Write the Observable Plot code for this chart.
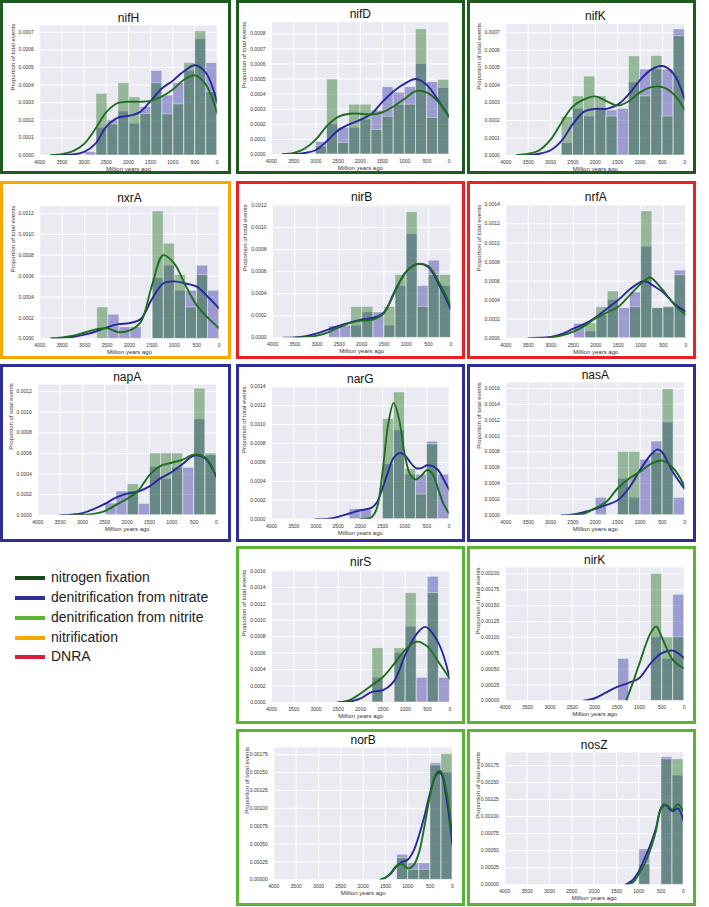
<!DOCTYPE html>
<html><head><meta charset="utf-8">
<script src="https://cdn.jsdelivr.net/npm/d3@7"></script>
<script src="https://cdn.jsdelivr.net/npm/@observablehq/plot@0.6"></script>
<style>
body{margin:0;background:#fff;font-family:"Liberation Sans",Arial,sans-serif;}
#root{position:relative;width:709px;height:907px;overflow:hidden;background:#fff;}
.box{position:absolute;box-sizing:border-box;border:3px solid;pointer-events:none;}
.panel{position:absolute;}
.panel svg{overflow:visible;}
.leg{position:absolute;font-size:14px;color:#222;white-space:nowrap;}
.sw{position:absolute;height:4px;width:30px;}
</style></head><body><div id="root"></div><script>
// ---------- DATA ----------
const genes = ["nifH","nifD","nifK","nxrA","nirB","nrfA","napA","narG","nasA","nirS","nirK","norB","nosZ"];
const pathwayOf = ["fix","fix","fix","nitrif","dnra","dnra","nitrate","nitrate","nitrate","nitrite","nitrite","nitrite","nitrite"];
const pathways = ["fix","nitrate","nitrite","nitrif","dnra"];
const pathwayNames = ["nitrogen fixation","denitrification from nitrate","denitrification from nitrite","nitrification","DNRA"];
const xTickLabels = [4000,3500,3000,2500,2000,1500,1000,500,0];
// oldest histogram bin edge (Ma); bins run from here to 0
const binOldest = [2970,3000,2750,2720,2730,2480,2485,2240,1990,1735,1475,1240,990];
// histogram heights, oldest bin first
const greenHist = [
 [0,0.00035,0.000176,0.00041,0.00033,0.000236,0.00041,0.000233,0.00029,0.000525,0.000705,0.00036],
 [0.000053,0.000497,0.000075,0.00033,0.00033,0.000163,0.00025,0.00033,0.00033,0.00083,0.000243,0.000495],
 [0.00022,0.000337,0.00045,0.000337,0.000222,0,0.000565,0.000337,0.000567,0.000222,0.00068],
 [0.0003,0,0,0,0,0.00122,0.00091,0.00061,0.0003,0.00061,0],
 [0,0,0.00028,0.00028,0,0.00028,0.00057,0.00114,0.00028,0.00057,0.00057],
 [0,0.000157,0.000325,0.00049,0,0.000325,0.00133,0.000315,0.00033,0.00066],
 [0,0,0.0003,0,0.0006,0.0006,0.0006,0,0.00123,0.0006],
 [0,0,0,0.00106,0.00134,0.00053,0.00026,0.00079,0],
 [0,0,0.0008,0.0008,0,0.00079,0.00159,0],
 [0.00066,0,0.00066,0.00133,0,0.00133,0],
 [0,0,0,0.002,0.001,0.001],
 [0.0003,0.00014,0.00014,0.0016,0.00176],
 [0.0003,0,0.00184,0.00184]
];
const purpleHist = [
 [0.00002,0.000157,0.0002,0.00025,0.00018,0.000274,0.00048,0.00034,0.00041,0.00048,0.00066,0.000524],
 [0.000082,0.0002,0.000177,0.000177,0.00023,0.00029,0.000446,0.00041,0.000446,0.0006,0.00048,0.00044],
 [0.00007,0.000266,0.000222,0.000266,0.000257,0.000266,0.000416,0.00049,0.00049,0.00049,0.000719],
 [0,0.00023,0.00011,0.00011,0,0.00058,0.0007,0.00046,0.00046,0.0007,0.00046],
 [0.000105,0.00011,0.00011,0.00023,0.00023,0.00011,0.00047,0.00094,0.00047,0.0007,0.00047],
 [0.00015,0.00007,0.00024,0.0004,0.000315,0.00048,0.00096,0.000315,0.00032,0.00071],
 [0.000114,0.00023,0.00023,0.00011,0.00047,0.00035,0.00046,0.00046,0.00093,0.00058],
 [0.000106,0.000095,0,0.00058,0.00094,0.00047,0.00047,0.00082,0.00047],
 [0.00022,0,0.00046,0.00022,0.0007,0.00093,0.00117,0.00022],
 [0.0003,0,0.0006,0.00092,0.0003,0.00153,0.0003],
 [0.00066,0,0,0.001,0.00066,0.00167],
 [0.00035,0.00023,0.00023,0.00163,0.0015],
 [0.00052,0,0.00187,0.0016]
];
// density curves, [age Ma, density]
const blueKde = [
 [[3750,0],[3500,0.000002],[3250,0.000006],[3000,0.00002],[2750,0.000066],[2500,0.000164],[2250,0.000214],[2000,0.000225],[1750,0.000245],[1500,0.00031],[1250,0.00038],[1000,0.000425],[750,0.000478],[500,0.000512],[250,0.000467],[0,0.0003]],
 [[3750,0],[3500,0.000002],[3250,0.00001],[3000,0.00003],[2750,0.00009],[2500,0.00016],[2250,0.0002],[2000,0.00023],[1750,0.00027],[1500,0.00035],[1250,0.00042],[1000,0.00047],[750,0.0005],[500,0.00046],[250,0.00036],[0,0.00025]],
 [[3750,0],[3500,0.000002],[3250,0.00001],[3000,0.00003],[2750,0.000085],[2500,0.00018],[2250,0.00025],[2000,0.000266],[1750,0.000266],[1500,0.00029],[1250,0.00035],[1000,0.00043],[750,0.00049],[500,0.00051],[250,0.000466],[0,0.00032]],
 [[3750,0],[3500,0.000006],[3250,0.00002],[3000,0.00004],[2750,0.00007],[2500,0.00011],[2250,0.00014],[2000,0.00015],[1750,0.00019],[1500,0.00038],[1250,0.00053],[1000,0.00055],[750,0.00053],[500,0.0005],[250,0.0004],[0,0.00029]],
 [[3750,0],[3500,0.000003],[3250,0.000015],[3000,0.00004],[2750,0.000075],[2500,0.00011],[2250,0.00014],[2000,0.000165],[1750,0.00018],[1500,0.00023],[1250,0.00043],[1000,0.0006],[750,0.00067],[500,0.00064],[250,0.00047],[0,0.00026]],
 [[3500,0],[3250,0.000004],[3000,0.000014],[2750,0.000045],[2500,0.0001],[2250,0.00015],[2000,0.00022],[1750,0.00031],[1500,0.0004],[1250,0.00051],[1000,0.00059],[875,0.000595],[750,0.00056],[500,0.00048],[250,0.00036],[0,0.00028]],
 [[3500,0],[3250,0.000006],[3000,0.00002],[2750,0.00006],[2500,0.00011],[2250,0.00017],[2000,0.00021],[1750,0.00023],[1500,0.00028],[1250,0.00036],[1000,0.00042],[750,0.0005],[500,0.00058],[250,0.00055],[0,0.00037]],
 [[3000,0],[2750,0.000004],[2500,0.000025],[2250,0.00006],[2000,0.000095],[1750,0.00012],[1625,0.00018],[1500,0.00033],[1375,0.0005],[1250,0.00065],[1100,0.0007],[1000,0.00068],[875,0.0006],[750,0.00054],[625,0.00054],[500,0.00057],[375,0.00056],[250,0.00052],[125,0.00042],[0,0.00031]],
 [[2750,0],[2500,0.00001],[2250,0.00004],[2000,0.00008],[1750,0.00013],[1500,0.00019],[1250,0.00034],[1000,0.00057],[750,0.00077],[600,0.00083],[500,0.00079],[250,0.00053],[0,0.00033]],
 [[2500,0],[2250,0.00001],[2000,0.00005],[1750,0.00013],[1500,0.00015],[1250,0.00026],[1000,0.00058],[750,0.00083],[550,0.00092],[250,0.00072],[0,0.00029]],
 [[2250,0],[2000,0.00004],[1750,0.00013],[1500,0.00022],[1250,0.00028],[1000,0.00036],[750,0.00059],[500,0.00075],[250,0.00079],[0,0.00067]],
 [[1625,0],[1500,0.00003],[1375,0.00009],[1250,0.00019],[1125,0.00025],[1000,0.00028],[875,0.0004],[750,0.00062],[625,0.0009],[500,0.00122],[375,0.00146],[300,0.0015],[250,0.00148],[125,0.0011],[0,0.00048]],
 [[1300,0],[1250,0.00002],[1125,0.00008],[1000,0.0002],[875,0.00038],[750,0.00057],[625,0.00081],[500,0.00113],[425,0.00118],[250,0.00108],[125,0.00112],[0,0.00094]]
];
const greenKde = [
 [[3750,0.000002],[3500,0.000008],[3250,0.000025],[3000,0.000066],[2750,0.00015],[2500,0.000246],[2250,0.000297],[2000,0.000305],[1750,0.000305],[1500,0.00031],[1250,0.000335],[1000,0.000375],[750,0.00043],[500,0.000455],[250,0.0004],[0,0.00024]],
 [[3750,0.000002],[3500,0.00001],[3250,0.00004],[3000,0.0001],[2750,0.00019],[2500,0.00025],[2250,0.00027],[2000,0.00027],[1750,0.000265],[1500,0.00028],[1250,0.00032],[1000,0.00037],[750,0.00042],[500,0.00041],[250,0.00035],[0,0.00025]],
 [[3750,0.000002],[3500,0.00001],[3250,0.00003],[3000,0.00009],[2750,0.00019],[2500,0.00028],[2250,0.00032],[2000,0.000337],[1750,0.00031],[1500,0.000285],[1250,0.00031],[1000,0.00036],[750,0.00039],[500,0.00039],[250,0.00035],[0,0.00026]],
 [[3750,0.000003],[3500,0.000013],[3250,0.00003],[3000,0.00006],[2750,0.00009],[2500,0.0001],[2250,0.000064],[2000,0.00008],[1750,0.00016],[1500,0.00051],[1250,0.0008],[1000,0.00072],[750,0.00051],[500,0.00032],[250,0.0002],[0,0.0001]],
 [[3500,0],[3250,0.000006],[3000,0.00002],[2750,0.00005],[2500,0.000096],[2250,0.000135],[2000,0.000156],[1750,0.000165],[1500,0.000225],[1250,0.00042],[1000,0.0006],[750,0.00067],[500,0.00065],[250,0.00049],[0,0.00029]],
 [[3250,0],[3000,0.000007],[2750,0.00003],[2500,0.00007],[2250,0.00013],[2000,0.00021],[1750,0.00027],[1500,0.00033],[1250,0.00045],[1000,0.00057],[800,0.00064],[750,0.00063],[500,0.0005],[250,0.00035],[0,0.000245]],
 [[3250,0],[3000,0.000003],[2750,0.000013],[2500,0.00004],[2250,0.0001],[2000,0.00016],[1750,0.00024],[1500,0.00039],[1250,0.00048],[1000,0.00051],[750,0.00054],[500,0.00059],[250,0.00056],[0,0.00037]],
 [[2000,0],[1875,0.000005],[1750,0.00002],[1625,0.00012],[1500,0.0005],[1375,0.001],[1250,0.00123],[1125,0.00105],[1000,0.00068],[875,0.00047],[750,0.00042],[625,0.00046],[500,0.00052],[375,0.00048],[250,0.00032],[125,0.00016],[0,0.00006]],
 [[2500,0],[2250,0.00002],[2000,0.00009],[1750,0.00017],[1500,0.00034],[1250,0.00046],[1000,0.00055],[750,0.00065],[500,0.00069],[250,0.00059],[0,0.00036]],
 [[2500,0.000004],[2250,0.00003],[2000,0.00011],[1750,0.00021],[1500,0.00031],[1250,0.00047],[1000,0.00064],[750,0.00074],[500,0.00068],[250,0.00049],[0,0.00029]],
 [[1300,0],[1250,0.00009],[1125,0.00033],[1000,0.00059],[750,0.00107],[625,0.00117],[500,0.001],[250,0.00064],[0,0.00051]],
 [[1625,0],[1500,0.00003],[1375,0.0001],[1250,0.0002],[1125,0.00022],[1000,0.00016],[875,0.0002],[750,0.00038],[625,0.00076],[500,0.00118],[375,0.00148],[300,0.00152],[250,0.00151],[125,0.0012],[0,0.00059]],
 [[1250,0],[1125,0.00004],[1000,0.00016],[875,0.0003],[750,0.0005],[625,0.00077],[500,0.00112],[375,0.00117],[250,0.0011],[125,0.00118],[0,0.00108]]
];
// y axis: top of range, tick step, decimals of tick labels
const yTop = [0.000738,0.000877,0.000751,0.00127,0.00121,0.0014,0.00127,0.0014,0.001676,0.00161,0.0021,0.00185,0.00194];
const yStep = [0.0001,0.0001,0.0001,0.0002,0.0002,0.0002,0.0002,0.0002,0.0002,0.0002,0.00025,0.00025,0.00025];
const yDecimals = [4,4,4,4,4,4,4,4,4,4,5,5,5];

// ---------- LAYOUT / STYLE ----------
const pathwayColor = {fix:"#1f5a1f", nitrate:"#2e2e96", nitrite:"#5ab534", nitrif:"#f7a900", dnra:"#ee1f24"};
const legendColor = {fix:"#1b4a1b", nitrate:"#2e2e96", nitrite:"#5ab534", nitrif:"#f7a900", dnra:"#d81e3a"};
const blueC = "#28289e", greenC = "#1e6e1e";
const boxes = [
 [0,0,231,174],[236,0,465,174],[467,0,696,174],
 [0,181,231,359],[236,181,465,359],[467,181,696,359],
 [0,364,231,542],[236,364,465,542],[467,364,696,542],
 [236,546,465,724],[467,546,696,724],
 [236,729,465,906],[467,729,696,906]
];
const frames = [
 [39.3,216.7,25,155],[271,448.7,21.7,154],[505.3,684.3,23.3,155],
 [39.3,218.7,205.7,338.3],[272,450.3,204,337.3],[505.3,685.3,204.3,337.7],
 [37.3,216,384,514.7],[271,448.7,386.3,518.7],[505.3,684.3,382,514.7],
 [271,449.3,569.7,702],[504.7,683.7,567,700.3],
 [273.3,452,747,879.3],[504.3,683,752,884.3]
];
const FONT = "'Liberation Sans', Arial, sans-serif";
const root = document.getElementById("root");

genes.forEach((g, i) => {
  const [bl, bt, br, bb] = boxes[i];
  const [fx0, fx1, fy0, fy1] = frames[i];
  const n = greenHist[i].length;
  const w = binOldest[i] / n;
  const bins = (arr) => arr.map((v, k) => ({x1: binOldest[i] - k * w, x2: binOldest[i] - (k + 1) * w, v})).filter(d => d.v > 0);
  const yt = d3.range(0, yTop[i] + 1e-9, yStep[i]).map(v => +v.toFixed(6)).filter(v => v <= yTop[i] + 1e-9);
  const fmt = d3.format("." + yDecimals[i] + "f");
  const svg = Plot.plot({
    width: br - bl, height: bb - bt,
    marginLeft: fx0 - bl, marginRight: br - fx1, marginTop: fy0 - bt, marginBottom: bb - fy1,
    style: {fontFamily: FONT, background: "transparent", overflow: "visible"},
    x: {domain: [4000, 0], axis: null},
    y: {domain: [0, yTop[i]], axis: null},
    marks: [
      Plot.frame({fill: "#eaeaf2", stroke: null}),
      Plot.ruleX(xTickLabels, {stroke: "white", strokeWidth: 1}),
      Plot.ruleY(yt, {stroke: "white", strokeWidth: 1}),
      Plot.rectY(bins(purpleHist[i]), {x1: "x1", x2: "x2", y: "v", fill: blueC, fillOpacity: 0.4, stroke: "white", strokeOpacity: 0.5, strokeWidth: 0.8}),
      Plot.rectY(bins(greenHist[i]), {x1: "x1", x2: "x2", y: "v", fill: greenC, fillOpacity: 0.42, stroke: "white", strokeOpacity: 0.5, strokeWidth: 0.8}),
      Plot.line(blueKde[i], {x: d => d[0], y: d => d[1], stroke: blueC, strokeWidth: 1.9, curve: "catmull-rom", clip: true}),
      Plot.line(greenKde[i], {x: d => d[0], y: d => d[1], stroke: greenC, strokeWidth: 1.9, curve: "catmull-rom", clip: true}),
      Plot.axisX(xTickLabels, {tickSize: 0, tickPadding: 5, fontSize: 5, fill: "#333", tickFormat: d => String(d), label: null}),
      Plot.axisY(yt, {tickSize: 0, tickPadding: 6, fontSize: 5, fill: "#333", tickFormat: fmt, label: null}),
      Plot.text([g], {frameAnchor: "top", dy: -4, lineAnchor: "bottom", fontSize: 12, fill: "#111"}),
      Plot.text(["Million years ago"], {frameAnchor: "bottom", dy: 13.5, lineAnchor: "middle", fontSize: 6, fill: "#333"}),
      Plot.text(["Proportion of total events"], {frameAnchor: "left", dx: -27, rotate: -90, lineAnchor: "middle", fontSize: 6, fill: "#333"})
    ]
  });
  const p = document.createElement("div");
  p.className = "panel";
  p.style.left = bl + "px"; p.style.top = bt + "px";
  p.appendChild(svg);
  root.appendChild(p);
  const b = document.createElement("div");
  b.className = "box";
  b.style.left = bl + "px"; b.style.top = bt + "px";
  b.style.width = (br - bl) + "px"; b.style.height = (bb - bt) + "px";
  b.style.borderColor = pathwayColor[pathwayOf[i]];
  root.appendChild(b);
});

// legend
const legendY = [578, 598, 618, 638, 657];
pathways.forEach((k, j) => {
  const s = document.createElement("div");
  s.className = "sw";
  s.style.left = "15px"; s.style.top = (legendY[j] - 2) + "px";
  s.style.background = legendColor[k];
  root.appendChild(s);
  const t = document.createElement("div");
  t.className = "leg";
  t.style.left = "51px"; t.style.top = (legendY[j] - 9) + "px";
  t.textContent = pathwayNames[j];
  root.appendChild(t);
});
</script></body></html>
